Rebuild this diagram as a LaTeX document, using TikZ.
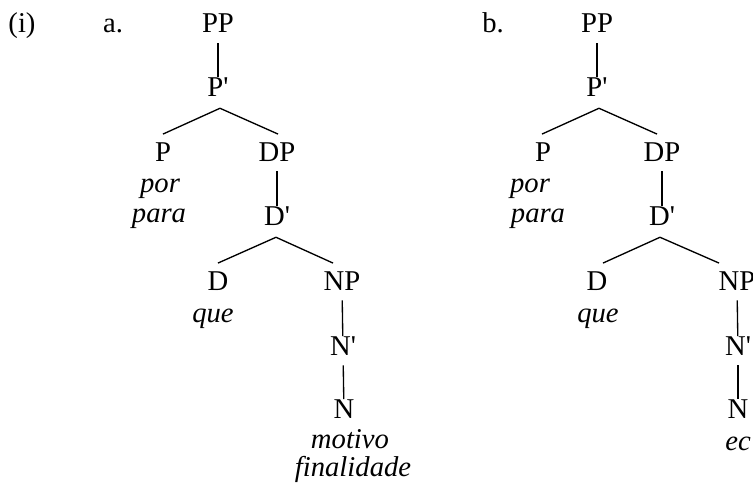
\documentclass[tikz,border=0pt]{standalone}
\usepackage{fontspec}
\setmainfont{Liberation Serif}
\usetikzlibrary{calc}
\newcommand{\prm}{\textquotesingle}
\tikzset{
  lbl/.style={anchor=base,inner sep=0pt,text height=14pt,text depth=7.5pt,font=\fontsize{21.5}{25}\selectfont},
  wrd/.style={anchor=base,inner sep=0pt,font=\fontsize{21.5}{25}\selectfont\itshape},
  edge/.style={line width=1pt}
}
\begin{document}
\begin{tikzpicture}[x=0.75pt,y=0.75pt,yscale=-1,xscale=1]
	\useasboundingbox (0,0) rectangle (753,485);

	% Text Node
	\node[lbl] (num) at (22,33) {(i)};
	\node[lbl] (lab-a) at (113,33) {a.};
	\node[lbl] (lab-b) at (493,33) {b.};

	%Tree a
	\node[lbl] (a-pp) at (218,33) {PP};
	\node[lbl] (a-pbar) at (218,96) {P\prm};
	\node[lbl] (a-p) at (163,161) {P};
	\node[lbl] (a-dp) at (277,161) {DP};
	\node[wrd] (a-por) at (160,192) {por};
	\node[wrd] (a-para) at (159,222) {para};
	\node[lbl] (a-dbar) at (277,225) {D\prm};
	\node[lbl] (a-d) at (218,290) {D};
	\node[wrd] (a-que) at (213,322) {que};
	\node[lbl] (a-np) at (342,290) {NP};
	\node[lbl] (a-nbar) at (343,355) {N\prm};
	\node[lbl] (a-n) at (344,418) {N};
	\node[wrd] (a-motivo) at (350,448) {motivo};
	\node[wrd] (a-final) at (353,476) {finalidade};

	\draw[edge] (a-pp) -- (a-pbar);
	\draw[edge] ($(a-pbar.south)+(2,2)$) -- ($(a-p.north)+(0,-8)$);
	\draw[edge] ($(a-pbar.south)+(2,2)$) -- ($(a-dp.north)+(1,-8)$);
	\draw[edge] (a-dp) -- (a-dbar);
	\draw[edge] ($(a-dbar.south)+(-1,2)$) -- ($(a-d.north)+(0,-8)$);
	\draw[edge] ($(a-dbar.south)+(-1,2)$) -- ($(a-np.north)+(-9,-8)$);
	\draw[edge] (a-np) -- (a-nbar);
	\draw[edge] (a-nbar) -- (a-n);

	%Tree b
	\node[lbl] (b-pp) at (597,33) {PP};
	\node[lbl] (b-pbar) at (597,96) {P\prm};
	\node[lbl] (b-p) at (543,161) {P};
	\node[lbl] (b-dp) at (662,161) {DP};
	\node[wrd] (b-por) at (530,192) {por};
	\node[wrd] (b-para) at (538,222) {para};
	\node[lbl] (b-dbar) at (662,225) {D\prm};
	\node[lbl] (b-d) at (597,290) {D};
	\node[wrd] (b-que) at (598,322) {que};
	\node[lbl] (b-np) at (737,290) {NP};
	\node[lbl] (b-nbar) at (738,355) {N\prm};
	\node[lbl] (b-n) at (738,418) {N};
	\node[wrd] (b-ec) at (738,450) {ec};

	\draw[edge] (b-pp) -- (b-pbar);
	\draw[edge] ($(b-pbar.south)+(2,2)$) -- ($(b-p.north)+(-1,-8)$);
	\draw[edge] ($(b-pbar.south)+(2,2)$) -- ($(b-dp.north)+(-5,-8)$);
	\draw[edge] (b-dp) -- (b-dbar);
	\draw[edge] ($(b-dbar.south)+(-2,2)$) -- ($(b-d.north)+(6,-8)$);
	\draw[edge] ($(b-dbar.south)+(-2,2)$) -- ($(b-np.north)+(-18,-8)$);
	\draw[edge] (b-np) -- (b-nbar);
	\draw[edge] (b-nbar) -- (b-n);
\end{tikzpicture}
\end{document}
